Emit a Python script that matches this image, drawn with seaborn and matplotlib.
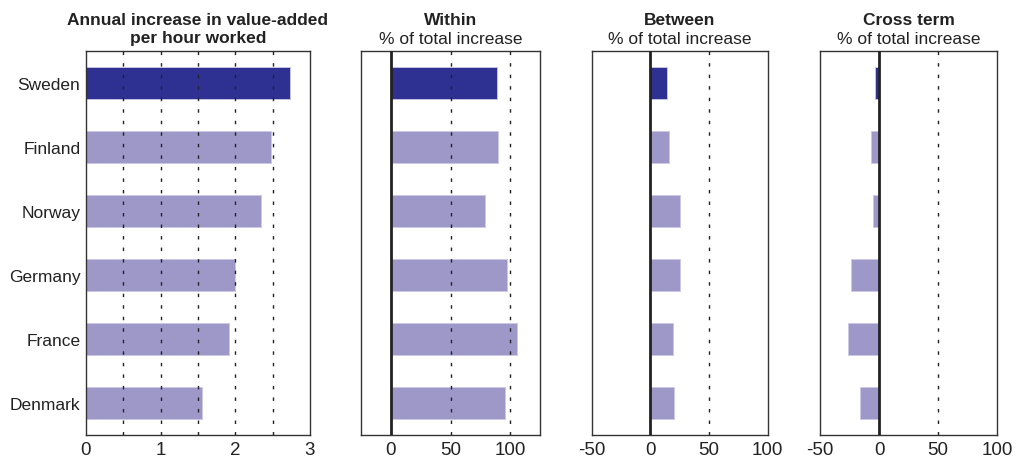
import matplotlib
matplotlib.use("Agg")
import matplotlib.pyplot as plt
import seaborn as sns
import pandas as pd

countries = ["Sweden", "Finland", "Norway", "Germany", "France", "Denmark"]
annual_increase = [2.73, 2.48, 2.34, 1.99, 1.92, 1.55]
within = [89, 90, 79, 97.5, 106, 96]
between = [14, 16, 25.5, 25, 19.5, 20]
cross_term = [-3.5, -7, -5, -23.5, -26.5, -16]

dark = "#2E3192"
light = "#9E98C8"
colors = [dark] + [light] * 5

sns.set_theme(style="white")
plt.rcParams["font.family"] = ["Liberation Sans", "DejaVu Sans"]

fig = plt.figure(figsize=(10.2, 4.64), dpi=100)
bottom, height = 0.0603, 0.828
axes = [
    fig.add_axes([0.0843, bottom, 0.2196, height]),
    fig.add_axes([0.354, bottom, 0.1755, height]),
    fig.add_axes([0.580, bottom, 0.1725, height]),
    fig.add_axes([0.804, bottom, 0.1735, height]),
]

panels = [
    (annual_increase, (0, 3), [0, 1, 2, 3], [0.5, 1, 1.5, 2, 2.5],
     ["Annual increase in value-added", "per hour worked"], None),
    (within, (-25, 125), [0, 50, 100], [50, 100], ["Within"], "% of total increase"),
    (between, (-50, 100), [-50, 0, 50, 100], [50], ["Between"], "% of total increase"),
    (cross_term, (-50, 100), [-50, 0, 50, 100], [50], ["Cross term"], "% of total increase"),
]

ax_h_px = height * 464

for i, (ax, (vals, xlim, xt, grid, title, sub)) in enumerate(zip(axes, panels)):
    df = pd.DataFrame({"country": countries, "value": vals})
    sns.barplot(data=df, x="value", y="country", hue="country", palette=colors,
                orient="h", width=0.5, legend=False, ax=ax, saturation=1,
                edgecolor="#CBC7E6", linewidth=0.6, zorder=2)
    for g in grid:
        ax.axvline(g, color="#222222", ls=(0, (2.5, 5.8)), lw=1, zorder=3)
    if i > 0:
        ax.axvline(0, color="#222222", lw=2, zorder=4)
    ax.set_xlim(*xlim)
    ax.set_ylim(5.5, -0.5)
    ax.set_xticks(xt)
    ax.set_xticklabels([str(v) for v in xt], fontsize=13.5)
    ax.set_xlabel("")
    ax.set_ylabel("")
    if i == 0:
        ax.set_yticks(range(len(countries)))
        ax.set_yticklabels(countries, fontsize=12.5)
    else:
        ax.set_yticks([])
    ax.tick_params(axis="both", length=0, pad=4, colors="#222222")
    for s in ax.spines.values():
        s.set_visible(True)
        s.set_color("#333333")
        s.set_linewidth(1.0)
    if sub is None:
        ax.text(0.5, 1 + 27 / ax_h_px, title[0], transform=ax.transAxes, ha="center",
                va="baseline", fontsize=12.5, fontweight="bold", color="#222222")
        ax.text(0.5, 1 + 9 / ax_h_px, title[1], transform=ax.transAxes, ha="center",
                va="baseline", fontsize=12.5, fontweight="bold", color="#222222")
    else:
        ax.text(0.5, 1 + 27 / ax_h_px, title[0], transform=ax.transAxes, ha="center",
                va="baseline", fontsize=12.5, fontweight="bold", color="#222222")
        ax.text(0.5, 1 + 8 / ax_h_px, sub, transform=ax.transAxes, ha="center",
                va="baseline", fontsize=12.5, color="#222222")

fig.savefig("out.png", dpi=100)
